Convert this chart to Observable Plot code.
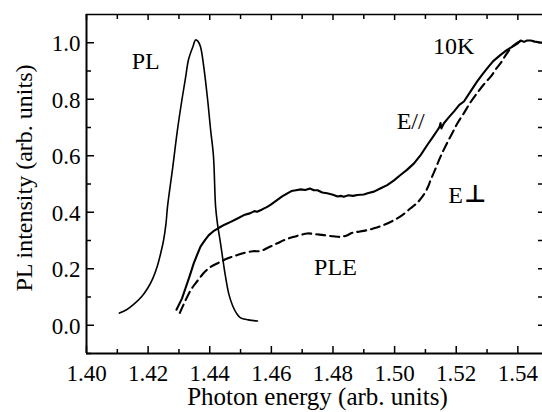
<!DOCTYPE html>
<html><head><meta charset="utf-8">
<script src="https://cdn.jsdelivr.net/npm/d3@7"></script>
<script src="https://cdn.jsdelivr.net/npm/@observablehq/plot@0.6"></script>
<style>body{margin:0;background:#fff}</style>
</head><body><div id="chart"></div>
<script>
// PL emission spectrum
const plX = [1.4107,1.4130,1.4153,1.4178,1.4198,1.4215,1.4230,1.4242,1.4250,1.4258,1.4263,1.4280,1.4295,1.4310,1.4322,1.4331,1.4345,1.4354,1.4362,1.4370,1.4380,1.4393,1.4403,1.4412,1.4419,1.4425,1.4435,1.4450,1.4462,1.4474,1.4487,1.4500,1.4525,1.4555];
const plY = [0.043,0.055,0.074,0.100,0.130,0.165,0.210,0.260,0.300,0.360,0.420,0.560,0.690,0.800,0.880,0.940,0.985,1.010,1.005,0.986,0.920,0.800,0.690,0.600,0.420,0.360,0.290,0.180,0.110,0.070,0.042,0.026,0.019,0.015];
// PLE, E parallel (solid)
const parX = [1.4292,1.4310,1.4321,1.4335,1.4348,1.4360,1.4370,1.4385,1.4397,1.4412,1.4430,1.4448,1.4468,1.4490,1.4511,1.4530,1.4545,1.4554,1.4570,1.4585,1.4597,1.4615,1.4635,1.4652,1.4665,1.4680,1.4695,1.4710,1.4725,1.4738,1.4750,1.4765,1.4781,1.4800,1.4815,1.4825,1.4835,1.4850,1.4865,1.4879,1.4900,1.4915,1.4933,1.4955,1.4976,1.4998,1.5019,1.5040,1.5063,1.5085,1.5106,1.5125,1.5140,1.5146,1.5149,1.5152,1.5160,1.5175,1.5193,1.5210,1.5225,1.5245,1.5268,1.5285,1.5301,1.5320,1.5344,1.5365,1.5387,1.5400,1.5409,1.5420,1.5430,1.5442,1.5455,1.5474,1.5480];
const parY = [0.055,0.095,0.130,0.175,0.219,0.252,0.278,0.302,0.319,0.333,0.345,0.356,0.366,0.378,0.390,0.396,0.404,0.402,0.410,0.418,0.426,0.440,0.456,0.467,0.475,0.478,0.481,0.479,0.484,0.478,0.478,0.470,0.467,0.462,0.456,0.458,0.455,0.460,0.458,0.461,0.463,0.468,0.473,0.485,0.496,0.513,0.532,0.550,0.573,0.603,0.638,0.668,0.692,0.702,0.716,0.697,0.715,0.735,0.757,0.780,0.792,0.825,0.863,0.888,0.910,0.935,0.957,0.975,0.989,0.998,1.008,1.003,1.008,1.008,1.004,1.001,1.000];
// PLE, E perpendicular (dashed)
const perX = [1.4303,1.4320,1.4338,1.4355,1.4370,1.4385,1.4403,1.4430,1.4457,1.4485,1.4511,1.4540,1.4565,1.4590,1.4619,1.4645,1.4673,1.4695,1.4717,1.4745,1.4770,1.4800,1.4825,1.4845,1.4863,1.4900,1.4933,1.4965,1.4998,1.5025,1.5052,1.5072,1.5090,1.5105,1.5117,1.5133,1.5149,1.5168,1.5187,1.5205,1.5225,1.5245,1.5268,1.5290,1.5312,1.5328,1.5344,1.5360,1.5377,1.5395,1.5409];
const perY = [0.044,0.085,0.124,0.150,0.171,0.190,0.207,0.222,0.236,0.247,0.256,0.262,0.263,0.275,0.290,0.303,0.313,0.320,0.325,0.322,0.319,0.315,0.313,0.318,0.327,0.334,0.343,0.355,0.372,0.390,0.414,0.432,0.455,0.482,0.514,0.555,0.597,0.640,0.680,0.717,0.751,0.787,0.822,0.853,0.880,0.905,0.928,0.955,0.981,0.998,1.006];

const xMajor = [1.40,1.42,1.44,1.46,1.48,1.50,1.52,1.54];
const xMinor = [1.41,1.43,1.45,1.47,1.49,1.51,1.53];
const yMajor = [0.0,0.2,0.4,0.6,0.8,1.0];
const yMinor = [-0.1,0.1,0.3,0.5,0.7,0.9];
const yRight = [0.0,0.1,0.2,0.3,0.4,0.5,0.6,0.7,0.8,0.9,1.0];

const labelText = ["PL","PLE","10K","E//","E"];
const labelX = [1.4192,1.4808,1.5192,1.5052,1.5198];
const labelY = [0.936,0.204,0.986,0.723,0.459];
const perpSymbolX = [1.5262];
const perpSymbolY = [0.462];

const xTitle = "Photon energy (arb. units)";
const yTitle = "PL intensity (arb. units)";

const xMin = 1.40, xMax = 1.548, yMin = -0.1, yMax = 1.1;
const W = 542, H = 412, mL = 86, mR = 0, mT = 14, mB = 59;
const pw = W - mL - mR, ph = H - mT - mB;
// data units per screen pixel, used to offset the axis texts outside the frame
const ux = (xMax - xMin) / pw, uy = (yMax - yMin) / ph;

const pl = plX.map((x,i)=>({x, y: plY[i]}));
const par = parX.map((x,i)=>({x, y: parY[i]}));
const per = perX.map((x,i)=>({x, y: perY[i]}));
const labels = labelText.map((t,i)=>({t, x: labelX[i], y: labelY[i]}));
const perpSym = perpSymbolX.map((x,i)=>({t:"⊥", x, y: perpSymbolY[i]}));
const xTickLabels = xMajor.map(v=>({x: v, y: yMin - 20 * uy, t: v.toFixed(2)}));
const yTickLabels = yMajor.map(v=>({x: xMin - 6 * ux, y: v - uy, t: v.toFixed(1)}));
const xTitleRow = [{x: xMin + 231 * ux, y: yMin - 43 * uy, t: xTitle}];
const yTitleRow = [{x: xMin - 62 * ux, y: 0.521, t: yTitle}];

const SERIF = "Liberation Serif";

const chart = Plot.plot({
  width: W, height: H,
  marginLeft: mL, marginRight: mR, marginTop: mT, marginBottom: mB,
  x: {domain: [xMin, xMax], axis: null},
  y: {domain: [yMin, yMax], axis: null},
  marks: [
    // frame
    Plot.ruleX([xMin], {stroke: "#000", strokeWidth: 2}),
    Plot.ruleY([yMin], {stroke: "#000", strokeWidth: 2}),
    Plot.ruleY([yMax], {stroke: "#000", strokeWidth: 1.6}),
    // inward ticks
    Plot.ruleX(xMajor, {x: d=>d, stroke: "#000", strokeWidth: 1.5, insetTop: ph - 7}),
    Plot.ruleX(xMinor, {x: d=>d, stroke: "#000", strokeWidth: 1.5, insetTop: ph - 4}),
    Plot.ruleX(xMajor, {x: d=>d, stroke: "#000", strokeWidth: 1.5, insetBottom: ph - 6}),
    Plot.ruleX(xMinor, {x: d=>d, stroke: "#000", strokeWidth: 1.5, insetBottom: ph - 5}),
    Plot.ruleY(yMajor, {y: d=>d, stroke: "#000", strokeWidth: 1.5, insetRight: pw - 8}),
    Plot.ruleY(yMinor, {y: d=>d, stroke: "#000", strokeWidth: 1.5, insetRight: pw - 5}),
    Plot.ruleY(yRight, {y: d=>d, stroke: "#000", strokeWidth: 1.5, insetLeft: pw - 4}),
    // tick labels
    Plot.text(xTickLabels, {x: "x", y: "y", text: "t", fontSize: 23, fontFamily: SERIF, fill: "#000", lineAnchor: "middle"}),
    Plot.text(yTickLabels, {x: "x", y: "y", text: "t", fontSize: 23, fontFamily: SERIF, fill: "#000", lineAnchor: "middle", textAnchor: "end"}),
    // curves
    Plot.line(pl, {x: "x", y: "y", stroke: "#000", strokeWidth: 1.6, curve: "catmull-rom"}),
    Plot.line(par, {x: "x", y: "y", stroke: "#000", strokeWidth: 2.1}),
    Plot.line(per, {x: "x", y: "y", stroke: "#000", strokeWidth: 2.1, strokeDasharray: "9,5", curve: "catmull-rom"}),
    // annotations
    Plot.text(labels, {x: "x", y: "y", text: "t", fontSize: 24, fontFamily: SERIF, fill: "#000", lineAnchor: "middle"}),
    Plot.text(perpSym, {x: "x", y: "y", text: "t", fontSize: 24, fontFamily: "DejaVu Sans", fontWeight: "bold", fill: "#000", lineAnchor: "middle"}),
    // axis titles
    Plot.text(xTitleRow, {x: "x", y: "y", text: "t", fontSize: 25, fontFamily: SERIF, fill: "#000", lineAnchor: "middle"}),
    Plot.text(yTitleRow, {x: "x", y: "y", text: "t", fontSize: 24, fontFamily: SERIF, fill: "#000", lineAnchor: "middle", rotate: -90})
  ]
});
document.getElementById("chart").appendChild(chart);
</script>
</body></html>
